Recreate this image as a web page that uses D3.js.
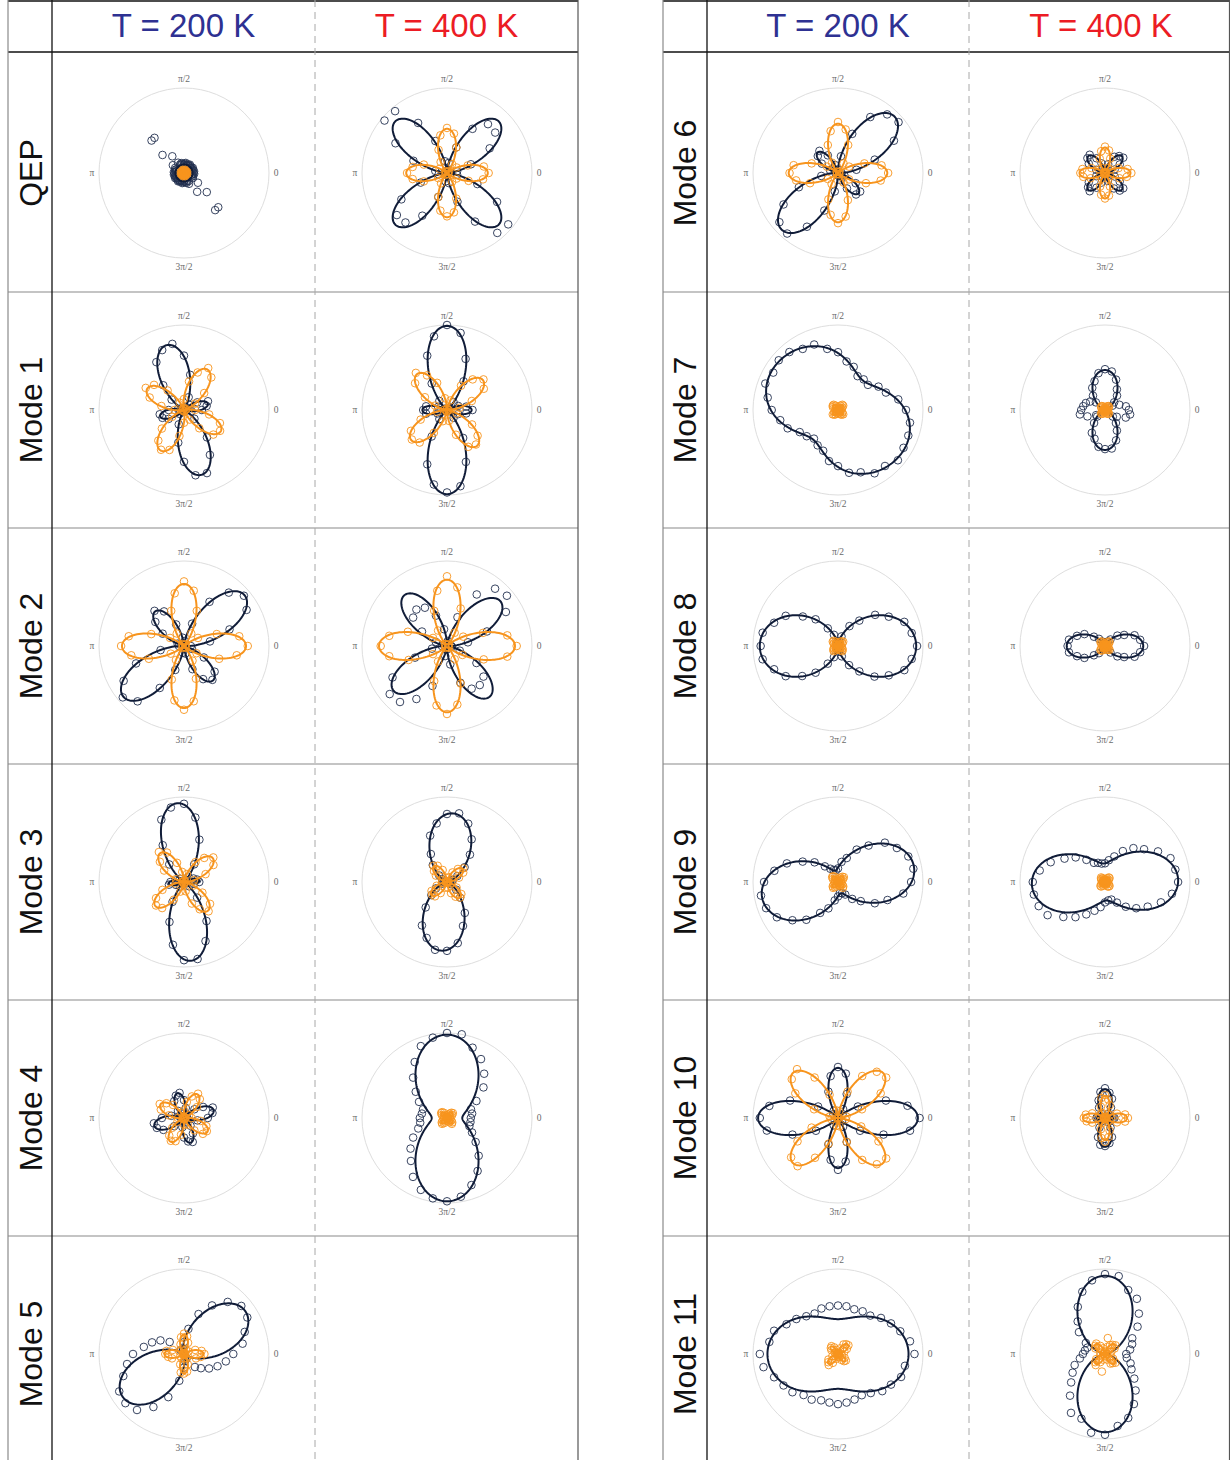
<!DOCTYPE html>
<html>
<head>
<meta charset="utf-8">
<script src="https://cdn.jsdelivr.net/npm/d3@7"></script>
<style>
  body { margin: 0; background: #fff; }
  svg { display: block; }
</style>
</head>
<body>
<svg id="chart" width="1230" height="1460"></svg>
<script>
// ---------------------------------------------------------------
// Polarisation-resolved intensity of each phonon mode at 200 K and 400 K.
// Dots: measured intensity at equally spaced angles starting at 0
// (36 values = every 10 degrees, 72 values = every 5 degrees).
// Fits: [phi, r(phi), r(phi+45), r(phi+90), r(phi+135)] of the
// harmonic model I = m + a2 cos2psi + b2 sin2psi + a4 cos4psi, psi = theta - phi.
// Intensities are normalised so that 100 sits on the outer grey ring.
// ---------------------------------------------------------------
const temperatures = ["T = 200 K", "T = 400 K"];
const rowLabelsLeft = ["QEP", "Mode 1", "Mode 2", "Mode 3", "Mode 4", "Mode 5"];
const rowLabelsRight = ["Mode 6", "Mode 7", "Mode 8", "Mode 9", "Mode 10", "Mode 11"];
const angleLabels = [
  { text: "0", deg: 0 }, { text: "\u03c0/2", deg: 90 },
  { text: "\u03c0", deg: 180 }, { text: "3\u03c0/2", deg: 270 }
];

const qep200 = {
  darkFit: [0, 10, 10, 10, 10],
  darkDots: [11,10,12,9,11,10,12,11,10,9,11,12,10,11,9,10,12,11,10,9,11,12,10,11,14,24,54,54,33,16,12,10,11,9,10,12,
             11,10,12,9,11,10,12,11,10,9,11,12,10,11,9,10,12,11,10,9,11,12,10,14,11,27,57,57,35,20,12,10,11,9,10,12],
  orangeFit: [0, 3, 3, 3, 3],
  orangeDots: [3,2,4,3,3,2,3,4,2,3,3,4,2,3,3,2,4,3,3,2,4,3,3,2,3,4,2,3,3,4,2,3,3,2,4,3]
};
const qep400 = {
  darkFit: [45, 86, 0, 86, 0],
  darkDots: [2,12,30,58,74,75,60,32,12,3,14,40,68,95,96,70,42,14,3,10,33,62,77,76,58,30,10,2,12,36,66,92,94,68,38,12],
  orangeFit: [0, 48, 0, 52, 0],
  orangeDots: [49,44,26,13,3,2,12,32,47,53,45,29,15,3,2,10,29,41,47,41,29,12,2,3,14,30,45,51,47,32,12,1,2,13,27,43]
};
const mode1_200 = {
  darkFit: [105, 79, 3, 29, 3],
  darkDots: [21,27,30,18,9,2,4,16,42,64,79,75,65,38,19,4,1,7,18,29,27,21,7,1,3,18,39,61,78,79,61,42,16,2,2,9],
  orangeFit: [60, 55, 0, 50, 0],
  orangeDots: [13,2,3,15,31,50,57,47,34,13,3,2,10,30,46,52,43,27,11,1,2,16,34,47,54,50,31,15,2,1,13,28,45,49,45,30]
};
const mode1_400 = {
  darkFit: [90, 99, 5, 29, 5],
  darkDots: [30,23,14,3,2,12,39,64,92,100,88,68,36,14,2,3,11,25,28,25,12,2,1,14,36,68,89,97,91,65,38,12,1,3,14,23],
  orangeFit: [40, 55, 0, 55, 0],
  orangeDots: [2,15,31,50,56,47,33,12,2,1,14,34,47,57,49,30,15,3,1,12,33,49,54,50,31,14,2,2,13,31,50,53,47,34,12,2]
};
const mode2_200 = {
  darkFit: [40, 93, 1, 53, 1],
  darkDots: [8,31,57,85,92,82,60,28,6,1,10,27,47,54,44,29,8,1,6,28,60,82,94,85,57,30,8,2,9,29,45,52,47,27,10,1],
  orangeFit: [0, 73, 0, 73, 0],
  orangeDots: [75,66,41,19,3,2,17,44,66,76,63,44,17,3,2,19,41,66,74,63,44,18,2,3,19,42,65,75,66,41,20,2,3,17,44,63]
};
const mode2_400 = {
  darkFit: [40, 82, 2, 78, 2],
  darkDots: [5,25,50,80,92,88,70,36,6,3,20,38,52,56,52,34,14,3,6,18,40,74,88,86,72,50,12,4,22,46,58,60,56,40,16,6],
  orangeFit: [0, 80, 2, 78, 2],
  orangeDots: [82,72,45,22,3,2,18,47,70,82,66,44,21,3,3,19,49,69,78,69,48,19,2,3,21,44,71,80,70,47,18,2,3,21,46,72]
};
const mode3_200 = {
  darkFit: [95, 93, 7, 18, 7],
  darkDots: [18,16,12,4,1,8,24,53,77,92,89,78,50,27,6,1,3,10,16,18,10,3,1,7,27,50,75,92,92,74,53,24,8,1,4,12],
  orangeFit: [40, 44, 0, 44, 0],
  orangeDots: [2,12,27,40,45,37,27,10,2,1,12,24,40,46,37,27,10,2,1,10,27,38,43,40,24,12,2,2,11,27,37,45,40,25,12,1]
};
const mode3_400 = {
  darkFit: [85, 81, 25, 2, 25],
  darkDots: [3,4,7,14,27,42,58,73,82,80,70,58,38,26,12,7,2,3,2,3,6,15,24,39,59,70,81,81,73,55,42,24,14,5,4,2],
  orangeFit: [40, 24, 0, 24, 0],
  orangeDots: [1,7,15,22,25,20,13,6,1,1,5,15,22,25,20,15,6,1,1,6,13,21,23,22,15,7,1,1,7,14,20,24,22,13,5,1]
};
const mode4_200 = {
  darkFit: [15, 36, 0, 30, 0],
  darkDots: [28,34,36,26,16,5,1,3,12,21,30,28,23,11,3,1,6,15,26,36,34,28,15,4,1,2,11,23,28,30,21,12,3,1,5,16],
  orangeFit: [60, 32, 0, 32, 0],
  orangeDots: [9,2,1,7,20,29,33,27,19,9,1,2,7,20,27,33,29,18,7,1,2,9,18,27,31,29,20,8,2,1,9,19,29,31,28,20]
};
const mode4_400 = {
  darkFit: [90, 98, 50, 18, 50],
  darkDots: [28,30,30,40,56,68,80,88,100,100,96,90,76,62,48,38,30,30,32,32,36,46,56,66,80,90,96,98,94,84,72,58,44,34,28,28],
  orangeFit: [45, 9, 0, 9, 0],
  orangeDots: [1,2,4,7,9,8,6,4,1,1,2,3,7,9,9,7,4,2,0,1,4,6,8,9,7,3,1,1,2,4,6,9,8,6,4,1]
};
const mode5_200 = {
  darkFit: [35, 88, 27, 2, 27],
  darkDots: [58,70,76,86,88,80,66,50,30,14,6,4,3,6,22,32,40,48,60,68,76,88,90,86,72,54,32,16,8,4,6,20,26,34,42,50],
  orangeFit: [0, 23, 0, 23, 0],
  orangeDots: [24,21,14,6,1,1,5,14,21,24,20,12,6,1,1,6,14,21,22,19,15,5,1,1,6,13,22,23,21,13,6,1,1,5,15,20]
};
const mode6_200 = {
  darkFit: [45, 94, 4, 34, 4],
  darkDots: [4,22,46,76,93,90,76,49,20,4,1,10,24,34,31,22,10,1,3,20,49,74,90,93,73,47,22,3,1,9,21,33,34,24,8,1],
  orangeFit: [0, 58, 0, 58, 0],
  orangeDots: [59,52,33,15,2,2,13,35,52,60,50,35,14,2,2,15,33,53,57,50,35,14,1,2,15,33,50,59,52,34,13,2,2,15,35,51]
};
const mode6_400 = {
  darkFit: [45, 28, 0, 28, 0],
  darkDots: [1,4,12,20,28,26,22,11,3,1,3,12,20,28,27,22,11,4,0,3,11,22,26,28,20,12,3,1,4,10,21,27,28,20,12,3],
  orangeFit: [0, 30, 0, 30, 0],
  orangeDots: [31,27,17,8,1,1,7,18,27,31,26,18,7,1,1,8,17,27,29,26,18,7,1,1,8,17,26,30,27,17,8,1,1,7,18,26]
};
const mode7_200 = {
  darkFit: [0, 79, 46, 67, 89],
  darkDots: [80,72,60,55,46,47,46,54,58,68,73,82,83,89,91,88,91,84,78,69,63,52,48,44,48,51,61,66,75,78,86,86,92,89,88,86],
  orangeFit: [45, 8, 0, 8, 0],
  orangeDots: [1,2,4,6,8,8,6,3,1,0,1,3,6,8,8,7,3,1,1,1,3,5,8,7,6,4,1,1,2,4,6,7,8,6,3,1]
};
const mode7_400 = {
  darkFit: [90, 47, 16, 1, 16],
  darkDots: [28,25,18,10,14,22,28,38,46,48,44,36,30,22,14,20,24,26,28,30,22,12,12,20,31,36,44,46,46,38,28,20,12,16,26,30],
  orangeFit: [45, 6, 0, 6, 0],
  orangeDots: [1,1,3,5,6,6,5,3,1,0,1,3,5,6,6,5,2,1,1,1,3,4,6,6,5,3,1,1,1,3,5,6,6,4,3,1]
};
const mode8_200 = {
  darkFit: [0, 92, 48, 3, 48],
  darkDots: [93,88,83,69,57,39,27,12,6,3,5,14,24,41,54,71,80,90,91,90,80,71,55,41,24,14,5,3,7,13,26,39,56,69,83,88],
  orangeFit: [45, 8, 0, 8, 0],
  orangeDots: [0,1,3,6,8,7,6,3,1,1,1,4,6,8,8,6,3,1,0,1,3,6,7,8,6,4,1,1,1,3,6,8,7,6,4,1]
};
const mode8_400 = {
  darkFit: [0, 45, 14, 1, 14],
  darkDots: [46,42,37,26,19,10,6,3,1,1,2,3,6,11,17,28,35,43,44,43,35,28,17,11,5,2,1,1,1,3,5,10,19,26,37,42],
  orangeFit: [45, 7, 0, 7, 0],
  orangeDots: [1,1,3,5,7,7,5,2,1,0,1,3,5,7,7,5,3,1,1,1,2,5,7,7,6,3,1,1,1,3,5,6,7,5,3,1]
};
const mode9_200 = {
  darkFit: [10, 91, 50, 14, 42],
  darkDots: [86,90,88,80,72,56,44,30,24,16,14,15,18,24,36,48,64,76,87,92,90,83,70,58,42,33,22,17,13,14,17,26,35,50,62,78],
  orangeFit: [45, 9, 0, 9, 0],
  orangeDots: [1,2,4,7,9,8,6,4,1,1,2,3,7,9,9,7,4,2,0,1,4,6,8,9,7,3,1,1,2,4,6,9,8,6,4,1]
};
const mode9_400 = {
  darkFit: [0, 86, 50, 22, 45],
  darkDots: [86,84,82,72,60,52,42,32,26,22,22,24,26,34,45,55,68,78,85,85,83,78,64,54,44,36,30,24,22,22,28,38,48,58,70,80],
  orangeFit: [45, 7, 0, 7, 0],
  orangeDots: [1,1,3,5,7,7,5,3,1,0,1,3,5,7,6,5,3,1,1,2,3,5,7,7,5,2,1,1,1,3,6,7,7,5,3,1]
};
const mode10_200 = {
  darkFit: [0, 94, 1, 59, 1],
  darkDots: [96,83,60,27,7,1,12,30,53,60,50,33,10,1,7,27,60,82,92,85,57,30,5,1,10,33,50,61,52,30,12,1,6,30,57,86],
  orangeFit: [45, 75, 0, 75, 0],
  orangeDots: [1,10,30,58,74,71,57,33,8,1,9,29,55,75,71,58,30,10,1,8,33,55,72,74,54,32,9,1,10,30,57,71,74,55,29,9]
};
const mode10_400 = {
  darkFit: [90, 34, 3, 10, 3],
  darkDots: [11,9,5,2,2,6,14,24,30,35,31,22,14,6,1,2,5,9,10,8,5,2,1,5,13,24,32,33,30,24,13,6,2,2,4,9],
  orangeFit: [0, 26, 0, 26, 0],
  orangeDots: [27,24,15,7,1,2,6,16,22,27,24,14,7,1,1,7,16,23,25,22,16,6,1,1,7,14,24,28,23,16,6,2,1,6,15,24]
};
const mode11_200 = {
  darkFit: [0, 83, 61, 41, 61],
  darkDots: [90,86,78,72,66,59,58,56,57,57,57,57,55,58,64,70,80,82,92,89,80,74,70,63,62,58,58,59,58,57,56,60,68,72,79,80],
  orangeFit: [45, 16, 0, 12, 0],
  orangeDots: [1,3,8,12,16,15,13,7,2,1,1,5,9,12,11,9,4,1,0,2,7,13,15,17,12,6,3,1,2,4,8,11,12,9,5,1]
};
const mode11_400 = {
  darkFit: [90, 92, 40, 1, 40],
  darkDots: [25,30,34,37,50,62,75,80,93,94,88,78,64,50,40,26,22,24,26,30,38,44,52,64,80,81,94,95,86,80,68,56,45,36,32,26],
  orangeFit: [45, 16, 0, 16, 0],
  orangeDots: [2,3,8,13,16,14,12,9,19,3,2,7,11,16,15,13,6,2,1,2,6,12,15,17,11,7,21,2,3,7,13,14,16,11,7,2]
};

const leftGrid = [
  [qep200, qep400], [mode1_200, mode1_400], [mode2_200, mode2_400],
  [mode3_200, mode3_400], [mode4_200, mode4_400], [mode5_200, null]
];
const rightGrid = [
  [mode6_200, mode6_400], [mode7_200, mode7_400], [mode8_200, mode8_400],
  [mode9_200, mode9_400], [mode10_200, mode10_400], [mode11_200, mode11_400]
];

// ---------------------------------------------------------------
// Layout
// ---------------------------------------------------------------
const svg = d3.select("#chart");
const H = 1460;
const rowLines = [52, 292, 528, 764, 1000, 1236];
const rowCenters = [173, 410, 646, 882, 1118, 1354];

const tables = [
  { x0: 8, x1: 52, xm: 315, x2: 578, labelX: 30, headX: [183.5, 446.5], plotX: [184, 447],
    rows: rowLabelsLeft, grid: leftGrid },
  { x0: 663, x1: 707, xm: 969, x2: 1229.5, labelX: 684, headX: [838, 1101], plotX: [838, 1105],
    rows: rowLabelsRight, grid: rightGrid }
];
const headColors = ["#2e3192", "#ec1c24"];
const darkLine = "#101c38", darkDot = "#22304f", orange = "#f7941d";

const rScale = d3.scaleLinear().domain([0, 100]).range([0, 85]);
const rad = Math.PI / 180;

function fitFunction(fit) {
  const [phi, r0, r45, r90, r135] = fit;
  const m = (r0 + r45 + r90 + r135) / 4;
  const a2 = (r0 - r90) / 2;
  const b2 = (r45 - r135) / 2;
  const a4 = (r0 + r90 - r45 - r135) / 4;
  return deg => {
    const p = (deg - phi) * rad;
    return Math.max(0, m + a2 * Math.cos(2 * p) + b2 * Math.sin(2 * p) + a4 * Math.cos(4 * p));
  };
}

const radial = d3.lineRadial()
  .angle(d => Math.PI / 2 - d[0] * rad)
  .radius(d => rScale(d[1]))
  .curve(d3.curveLinearClosed);

const sampleAngles = d3.range(0, 360, 1);

function drawSeries(g, fit, dots, lineColor, dotColor) {
  const pts = dots.map((v, i) => [i * 360 / dots.length, v]);
  g.append("g").selectAll("circle").data(pts).join("circle")
    .attr("cx", d => rScale(d[1]) * Math.cos(d[0] * rad))
    .attr("cy", d => -rScale(d[1]) * Math.sin(d[0] * rad))
    .attr("r", 3.8)
    .attr("fill", "none")
    .attr("stroke", dotColor)
    .attr("stroke-width", 0.9);
  const f = fitFunction(fit);
  g.append("path")
    .attr("d", radial(sampleAngles.map(a => [a, f(a)])))
    .attr("fill", "none")
    .attr("stroke", lineColor)
    .attr("stroke-width", 2)
    .attr("stroke-linejoin", "round");
}

function drawPanel(cx, cy, panel) {
  const g = svg.append("g").attr("transform", `translate(${cx},${cy})`);
  g.append("circle").attr("r", rScale(100))
    .attr("fill", "none").attr("stroke", "#dedede").attr("stroke-width", 1);
  g.selectAll("text.ang").data(angleLabels).join("text")
    .attr("class", "ang")
    .attr("x", d => Math.cos(d.deg * rad) * 92)
    .attr("y", d => -Math.sin(d.deg * rad) * 94)
    .attr("dy", "0.35em")
    .attr("text-anchor", "middle")
    .attr("font-family", "'Liberation Serif', 'DejaVu Serif', serif")
    .attr("font-size", 9.5)
    .attr("fill", "#6b6b6b")
    .text(d => d.text);
  drawSeries(g, panel.darkFit, panel.darkDots, darkLine, darkDot);
  drawSeries(g, panel.orangeFit, panel.orangeDots, orange, orange);
}

tables.forEach(t => {
  const lines = svg.append("g");
  // outer frame and row separators
  lines.append("line").attr("x1", t.x0).attr("x2", t.x2).attr("y1", 1).attr("y2", 1)
    .attr("stroke", "#111").attr("stroke-width", 1.3);
  rowLines.forEach((y, i) => {
    lines.append("line").attr("x1", t.x0).attr("x2", t.x2).attr("y1", y).attr("y2", y)
      .attr("stroke", i === 0 ? "#111" : "#8a8a8a").attr("stroke-width", i === 0 ? 1.3 : 1.2);
  });
  lines.append("line").attr("x1", t.x0).attr("x2", t.x0).attr("y1", 0).attr("y2", H)
    .attr("stroke", "#8a8a8a").attr("stroke-width", 1.2);
  lines.append("line").attr("x1", t.x1).attr("x2", t.x1).attr("y1", 0).attr("y2", H)
    .attr("stroke", "#111").attr("stroke-width", 1.3);
  lines.append("line").attr("x1", t.x2).attr("x2", t.x2).attr("y1", 0).attr("y2", H)
    .attr("stroke", "#555").attr("stroke-width", 1.2);
  lines.append("line").attr("x1", t.xm).attr("x2", t.xm).attr("y1", 0).attr("y2", H)
    .attr("stroke", "#a8a8a8").attr("stroke-width", 1).attr("stroke-dasharray", "7,5");

  // column headings
  temperatures.forEach((txt, j) => {
    svg.append("text")
      .attr("x", t.headX[j]).attr("y", 37)
      .attr("text-anchor", "middle")
      .attr("font-family", "'Liberation Sans', Arial, sans-serif")
      .attr("font-size", 33)
      .attr("fill", headColors[j])
      .text(txt);
  });

  // row headings
  t.rows.forEach((txt, i) => {
    svg.append("text")
      .attr("transform", `translate(${t.labelX},${rowCenters[i]}) rotate(-90)`)
      .attr("dy", "0.36em")
      .attr("text-anchor", "middle")
      .attr("font-family", "'Liberation Sans', Arial, sans-serif")
      .attr("font-size", 32)
      .attr("fill", "#111")
      .text(txt);
  });

  // polar panels
  t.grid.forEach((row, i) => {
    row.forEach((panel, j) => {
      if (panel) drawPanel(t.plotX[j], rowCenters[i], panel);
    });
  });
});
</script>
</body>
</html>
